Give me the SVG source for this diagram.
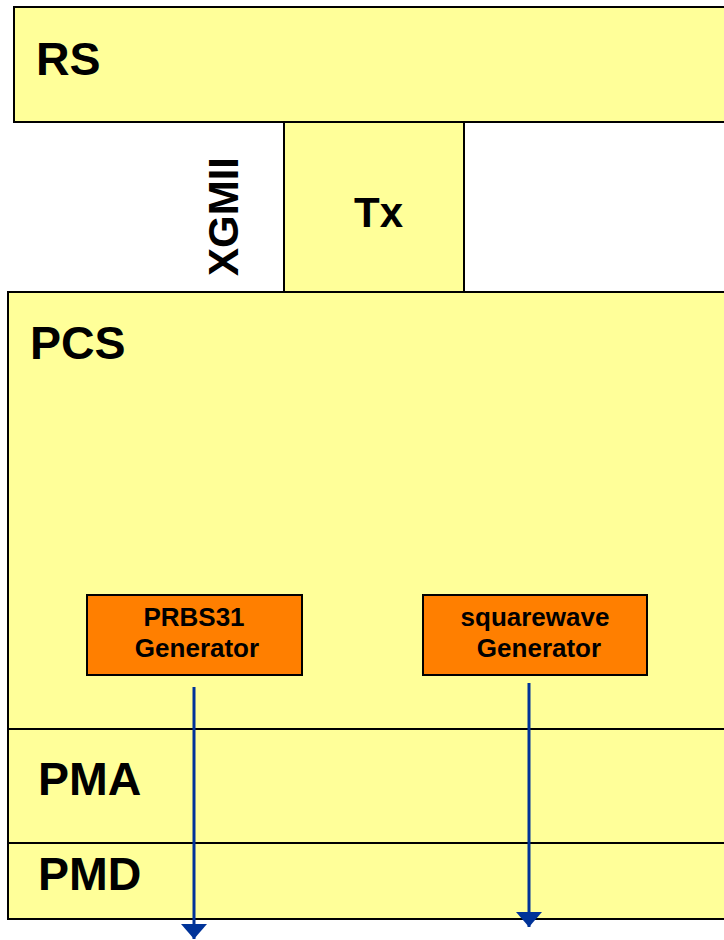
<svg xmlns="http://www.w3.org/2000/svg" width="724" height="940" viewBox="0 0 724 940">
<style>
.layer{fill:#FFFF99;stroke:#000;stroke-width:2}
.gen{fill:#FF7F00;stroke:#000;stroke-width:2}
.big{font-family:"Liberation Sans",Arial,sans-serif;font-weight:bold;font-size:46.5px;fill:#000}
.mid{font-family:"Liberation Sans",Arial,sans-serif;font-weight:bold;font-size:42px;fill:#000}
.small{font-family:"Liberation Sans",Arial,sans-serif;font-weight:bold;font-size:26px;fill:#000;text-anchor:middle}
.conn{stroke:#003399;stroke-width:3;fill:none}
</style>
<defs>
<marker id="ah" markerUnits="userSpaceOnUse" markerWidth="16" markerHeight="26" refX="15" refY="13" orient="auto" viewBox="0 0 16 26">
<path d="M0,0 L15,13 L0,26 Z" fill="#003399"/>
</marker>
</defs>
<g id="rs">
<rect class="layer" x="14" y="7" width="730" height="115"/>
<text class="big" x="36" y="75">RS</text>
</g>
<g id="tx">
<rect class="layer" x="284" y="122" width="180" height="170"/>
<text class="mid" x="354" y="227">Tx</text>
</g>
<g id="xgmii">
<text class="mid" text-anchor="middle" transform="translate(238,216.5) rotate(-90)">XGMII</text>
</g>
<g id="pcs">
<rect class="layer" x="8" y="292" width="740" height="437"/>
<text class="big" x="30" y="359">PCS</text>
</g>
<g id="pma">
<rect class="layer" x="8" y="729" width="740" height="114"/>
<text class="big" x="38" y="795">PMA</text>
</g>
<g id="pmd">
<rect class="layer" x="8" y="843" width="740" height="76"/>
<text class="big" x="38" y="890">PMD</text>
</g>
<g id="prbs31">
<rect class="gen" x="87" y="595" width="215" height="80"/>
<text class="small" x="194" y="626">PRBS31</text>
<text class="small" x="197" y="657">Generator</text>
</g>
<g id="squarewave">
<rect class="gen" x="423" y="595" width="224" height="80"/>
<text class="small" x="535" y="626">squarewave</text>
<text class="small" x="539" y="657">Generator</text>
</g>
<g id="connectors">
<line class="conn" x1="194" y1="687" x2="194" y2="939" marker-end="url(#ah)"/>
<line class="conn" x1="529" y1="683" x2="529" y2="927" marker-end="url(#ah)"/>
</g>
</svg>
